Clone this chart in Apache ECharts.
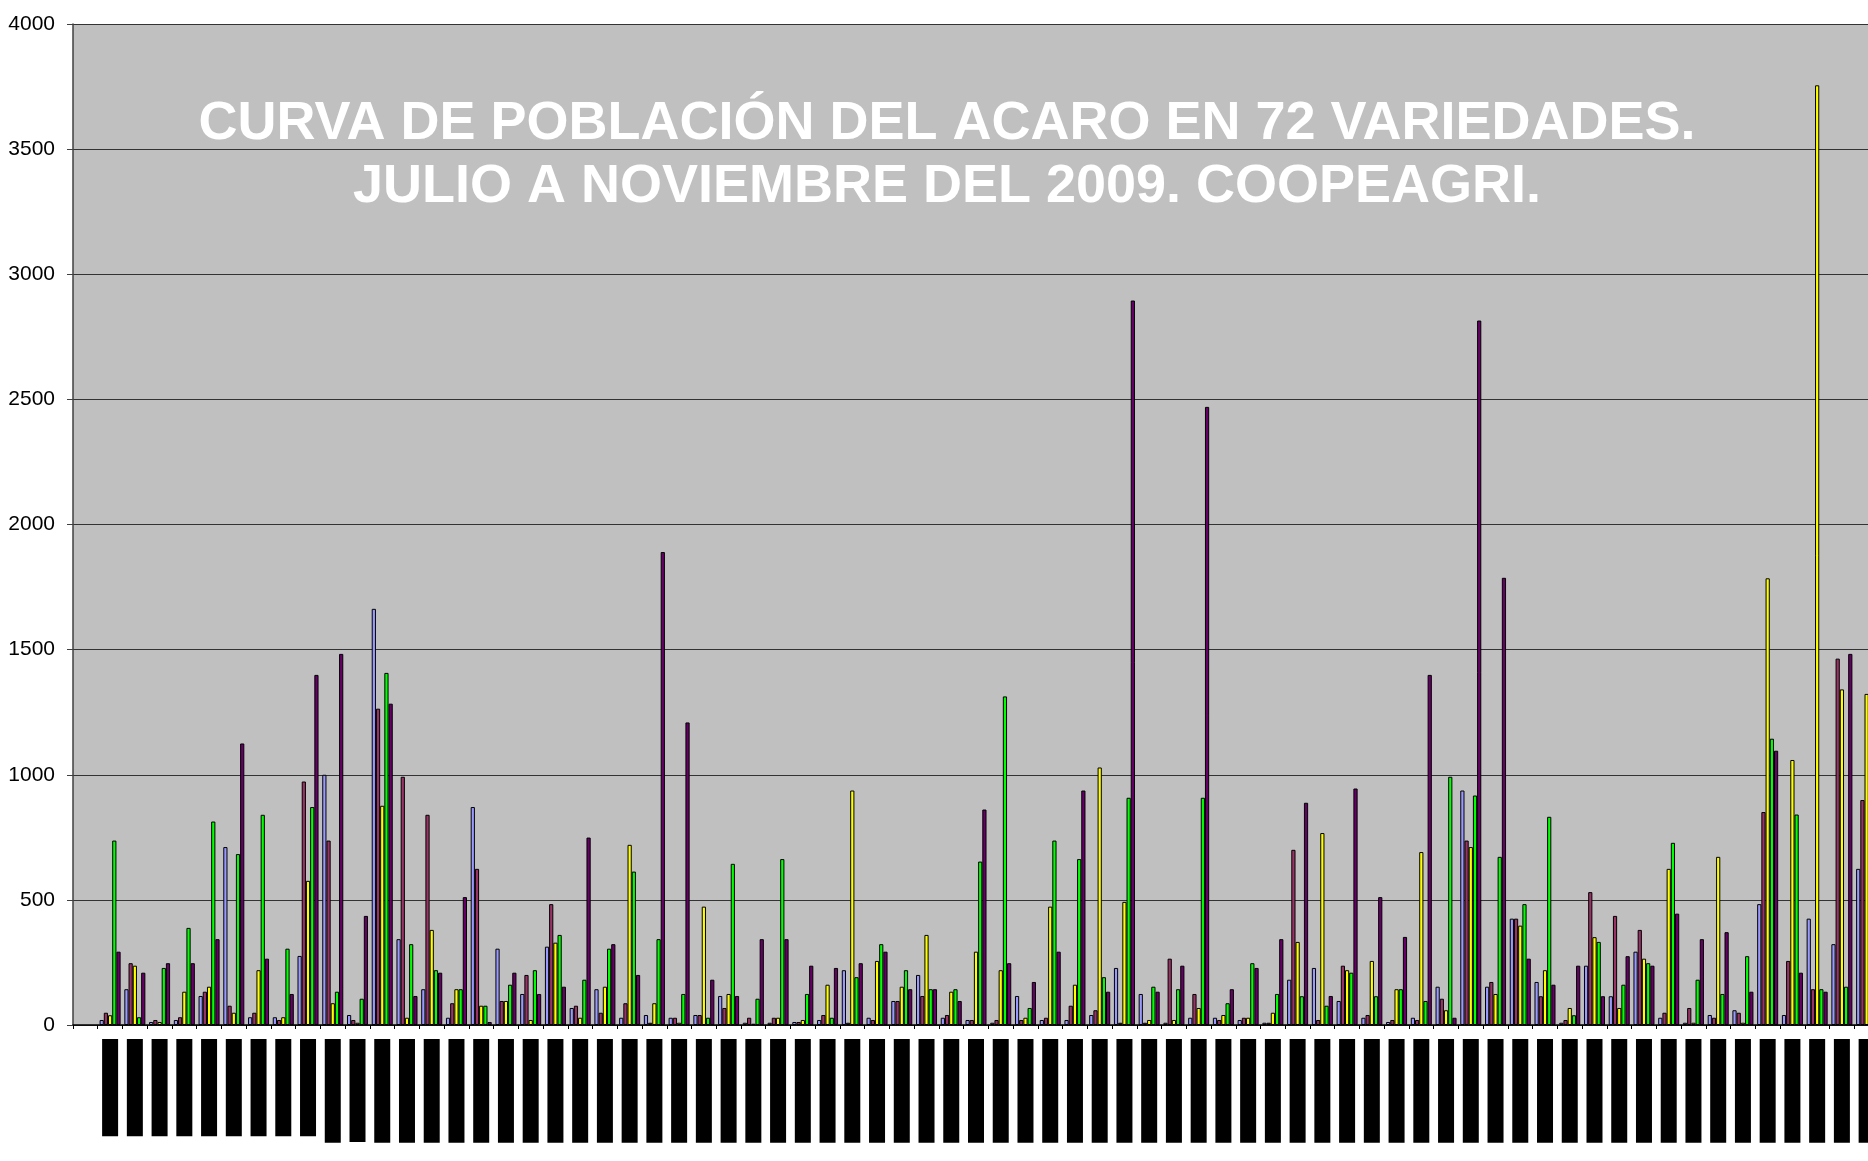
<!DOCTYPE html>
<html>
<head>
<meta charset="utf-8">
<script src="https://cdn.jsdelivr.net/npm/echarts@6/dist/echarts.min.js"></script>
<style>
html,body{margin:0;padding:0;background:#fff;}
#c{width:1868px;height:1161px;}
</style>
</head>
<body>
<div id="c"></div>
<script>
// Varieties (first category is an empty slot in the original chart)
const varieties = [''].concat(Array.from({length: 72}, (_, i) => 'Variedad ' + (i + 1)));

const julio = [null,
  20,143,12,20,116,711,31,31,276,1000,40,1663,343,143,29,871,305,124,313,68,143,29,40,29,40,116,9,9,12,20,
  219,29,96,200,29,20,9,116,20,20,40,228,124,9,29,29,20,9,181,228,96,29,12,29,153,937,153,425,172,9,
  237,115,293,29,9,40,59,483,40,425,323,624];
const agosto = [null,
  49,247,20,31,133,77,49,20,973,737,20,1264,992,840,87,624,96,200,483,77,49,87,9,29,40,68,29,29,12,40,
  9,20,96,116,40,20,20,20,29,77,59,9,9,265,124,20,29,9,700,20,237,40,20,20,105,737,172,425,115,20,
  531,436,380,49,68,29,49,851,256,143,1464,899];
const septiembre = [null,
  39,237,12,133,153,49,219,31,576,87,9,876,29,380,143,77,96,20,329,29,153,720,87,9,473,124,5,29,20,161,
  937,256,153,360,133,293,219,29,473,161,1029,492,20,20,68,40,29,49,332,767,219,256,143,691,59,711,124,397,219,68,
  351,68,265,624,9,672,9,1785,1059,3755,1341,1323];
const octubre = [null,
  737,31,228,388,813,683,840,305,871,133,105,1407,323,219,143,77,161,219,360,181,305,613,343,124,29,644,105,663,124,29,
  191,323,219,143,143,653,1313,68,737,663,191,908,153,143,908,87,247,124,115,77,209,115,143,96,992,917,672,483,832,39,
  332,161,247,728,181,124,275,1144,841,143,153,null];
const noviembre = [null,
  293,209,247,247,343,1125,265,124,1399,1483,436,1284,116,209,511,12,209,124,153,749,323,200,1890,1209,181,116,343,343,237,228,
  247,293,143,143,96,861,247,172,293,937,133,2895,133,237,2470,143,228,343,888,116,945,511,352,1399,29,2815,1787,265,161,237,
  115,275,237,445,343,371,133,1096,209,133,1483,null];

const seriesNames = ['Julio', 'Agosto', 'Septiembre', 'Octubre', 'Noviembre'];
const seriesData = [julio, agosto, septiembre, octubre, noviembre];
const seriesColors = ['#9999FF', '#993366', '#FFFF00', '#00FF00', '#660066'];
const yTicks = [0, 500, 1000, 1500, 2000, 2500, 3000, 3500, 4000];

const chart = echarts.init(document.getElementById('c'), null, {renderer: 'canvas'});

const catData = varieties.map(v => v === '' ? {value: v, textStyle: {backgroundColor: 'transparent', padding: 0}} : v);

const option = {
  backgroundColor: '#ffffff',
  animation: false,
  title: {
    text: 'CURVA DE POBLACIÓN DEL ACARO EN 72 VARIEDADES.\nJULIO A NOVIEMBRE DEL 2009. COOPEAGRI.',
    left: 947,
    top: 93,
    padding: 0,
    textAlign: 'center',
    textStyle: {
      color: '#ffffff',
      fontFamily: '"Liberation Sans", Arial, sans-serif',
      fontWeight: 'bold',
      fontSize: 54,
      lineHeight: 63
    }
  },
  grid: {
    left: 73,
    top: 24,
    width: 1806,
    bottom: 136,
    show: true,
    backgroundColor: '#C0C0C0',
    borderWidth: 0,
    containLabel: false,
    outerBoundsMode: 'none'
  },
  xAxis: {
    type: 'category',
    data: catData,
    boundaryGap: true,
    axisLine: {show: true, lineStyle: {color: '#000', width: 1.5}},
    axisTick: {show: true, interval: 0, length: 4, lineStyle: {color: '#000'}},
    axisLabel: {
      interval: 0,
      rotate: 90,
      margin: 14,
      color: '#000',
      backgroundColor: '#000',
      fontFamily: '"Liberation Sans", Arial, sans-serif',
      fontSize: 12,
      lineHeight: 16,
      padding: [0, 20, 0, 20]
    },
    splitLine: {show: false}
  },
  yAxis: {
    type: 'value',
    min: yTicks[0],
    max: yTicks[yTicks.length - 1],
    interval: 500,
    axisLine: {show: true, lineStyle: {color: '#404040', width: 1.5}},
    axisTick: {show: true, length: 6, lineStyle: {color: '#404040'}},
    axisLabel: {
      margin: 18,
      color: '#000',
      formatter: v => String(v),
      fontFamily: '"Liberation Sans Narrow", "Arial Narrow", "Liberation Sans", sans-serif',
      fontSize: 21
    },
    splitLine: {show: true, lineStyle: {color: '#333', width: 1}}
  },
  series: seriesNames.map((name, i) => ({
    name: name,
    type: 'bar',
    data: seriesData[i],
    barGap: '0%',
    barCategoryGap: '15%',
    itemStyle: {color: seriesColors[i], borderColor: '#000', borderWidth: 1}
  }))
};
chart.setOption(option);
</script>
</body>
</html>
